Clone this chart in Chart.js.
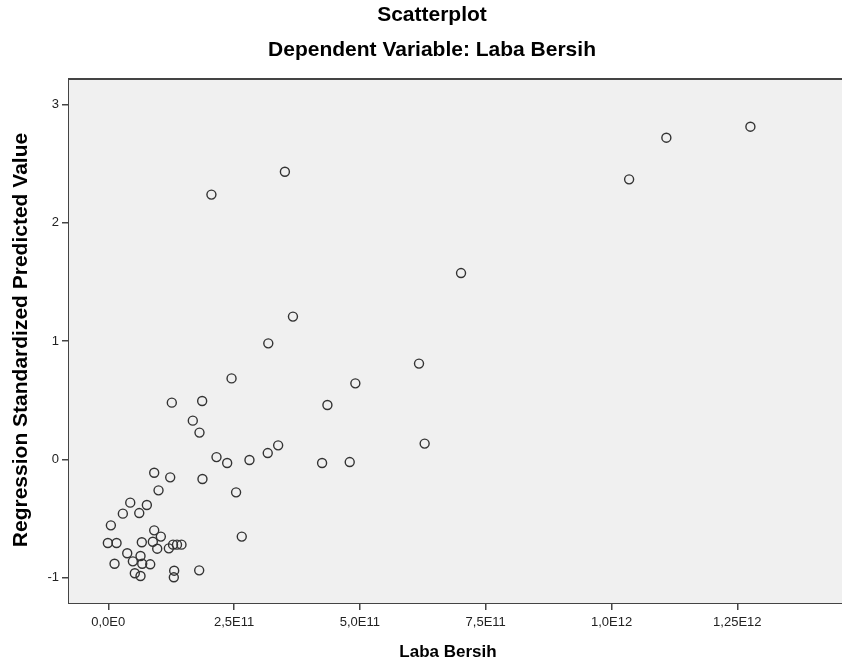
<!DOCTYPE html>
<html>
<head>
<meta charset="utf-8">
<title>Scatterplot</title>
<script src="https://cdn.jsdelivr.net/npm/chart.js@4.4.1/dist/chart.umd.min.js"></script>
<style>
  html, body { margin: 0; padding: 0; background: #ffffff; }
  #wrap { width: 842px; height: 666px; }
</style>
</head>
<body>
<div id="wrap"><canvas id="scatter" width="842" height="666"></canvas></div>
<script>
// Laba Bersih (x) and Regression Standardized Predicted Value (y)
const labaBersih = [
  -0.008e11, 0.165e11, 0.052e11, 0.125e11, 0.29e11, 0.377e11, 0.437e11, 0.489e11,
  0.528e11, 0.616e11, 0.641e11, 0.641e11, 0.667e11, 0.675e11, 0.767e11, 0.834e11,
  0.886e11, 0.913e11, 0.913e11, 0.973e11, 0.999e11, 1.045e11, 1.204e11, 1.231e11,
  1.263e11, 1.287e11, 1.303e11, 1.31e11, 1.366e11, 1.455e11, 1.68e11, 1.807e11,
  1.813e11, 1.866e11, 1.872e11, 2.05e11, 2.151e11, 2.363e11, 2.45e11, 2.54e11,
  2.653e11, 2.806e11, 3.169e11, 3.18e11, 3.376e11, 3.51e11, 3.67e11, 4.249e11,
  4.355e11, 4.798e11, 4.91e11, 6.175e11, 6.287e11, 7.01e11, 10.35e11, 11.09e11,
  12.76e11
];
const predictedValue = [
  -0.707, -0.707, -0.558, -0.882, -0.459, -0.794, -0.366, -0.862,
  -0.963, -0.454, -0.817, -0.986, -0.701, -0.882, -0.386, -0.887,
  -0.696, -0.113, -0.600, -0.755, -0.262, -0.653, -0.752, -0.152,
  0.479, -0.721, -0.997, -0.941, -0.721, -0.721, 0.327, -0.938,
  0.226, 0.493, -0.166, 2.237, 0.019, -0.031, 0.684, -0.279,
  -0.653, -0.006, 0.053, 0.980, 0.118, 2.430, 1.206, -0.031,
  0.459, -0.023, 0.642, 0.809, 0.133, 1.574, 2.366, 2.718,
  2.811
];

const xTickValues = [0, 2.5e11, 5.0e11, 7.5e11, 1.0e12, 1.25e12];
const xTickLabels = ['0,0E0', '2,5E11', '5,0E11', '7,5E11', '1,0E12', '1,25E12'];
const yTickValues = [-1, 0, 1, 2, 3];
const yTickLabels = ['-1', '0', '1', '2', '3'];

const FONT = '"Liberation Sans", Arial, sans-serif';

const points = labaBersih.map((x, i) => ({ x: x, y: predictedValue[i] }));

// plot background, top frame line and the text
const frame = {
  id: 'frame',
  beforeDatasetsDraw(chart) {
    const a = chart.chartArea, ctx = chart.ctx;
    ctx.save();
    ctx.fillStyle = '#f0f0f0';
    ctx.fillRect(a.left, a.top, a.right - a.left, a.bottom - a.top);
    ctx.strokeStyle = '#444444';
    ctx.lineWidth = 2;
    ctx.beginPath();
    ctx.moveTo(a.left, a.top);
    ctx.lineTo(a.right, a.top);
    ctx.stroke();
    ctx.restore();
  },
  afterDraw(chart) {
    const ctx = chart.ctx;
    ctx.save();
    ctx.fillStyle = '#000000';
    ctx.textAlign = 'center';
    ctx.textBaseline = 'middle';
    ctx.font = 'bold 21px ' + FONT;
    ctx.fillText('Scatterplot', 432, 15);
    ctx.fillText('Dependent Variable: Laba Bersih', 432, 50);
    ctx.font = 'bold 17px ' + FONT;
    ctx.fillText('Laba Bersih', 448, 652);
    ctx.font = 'bold 21px ' + FONT;
    ctx.translate(21, 340);
    ctx.rotate(-Math.PI / 2);
    ctx.fillText('Regression Standardized Predicted Value', 0, 0);
    ctx.restore();
  }
};

new Chart(document.getElementById('scatter').getContext('2d'), {
  type: 'scatter',
  data: {
    datasets: [{
      data: points,
      pointStyle: 'circle',
      pointRadius: 4.5,
      pointBorderWidth: 1.4,
      pointBorderColor: '#333333',
      pointBackgroundColor: 'rgba(0,0,0,0)'
    }]
  },
  options: {
    responsive: false,
    animation: false,
    events: [],
    devicePixelRatio: 1,
    layout: {
      autoPadding: false,
      padding: { top: 79, left: 0, right: 0, bottom: 0 }
    },
    plugins: {
      legend: { display: false },
      tooltip: { enabled: false }
    },
    scales: {
      x: {
        type: 'linear',
        min: -0.78e11,
        max: 1.458e12,
        afterFit: function(scale) {
          scale.height = 63;
          scale.paddingLeft = 0;
          scale.paddingRight = 0;
        },
        afterBuildTicks: function(scale) {
          scale.ticks = xTickValues.map(v => ({ value: v }));
        },
        ticks: {
          autoSkip: false,
          maxRotation: 0,
          padding: 5,
          color: '#222222',
          font: { family: FONT, size: 13 },
          callback: (value, index) => xTickLabels[index]
        },
        grid: {
          drawOnChartArea: false,
          drawTicks: true,
          tickLength: 7,
          color: '#444444',
          lineWidth: 1.5
        },
        border: { display: true, color: '#444444', width: 2 }
      },
      y: {
        type: 'linear',
        min: -1.214,
        max: 3.214,
        afterFit: function(scale) {
          scale.width = 69;
          scale.paddingTop = 0;
          scale.paddingBottom = 0;
        },
        afterBuildTicks: function(scale) {
          scale.ticks = yTickValues.map(v => ({ value: v }));
        },
        ticks: {
          autoSkip: false,
          padding: 3,
          color: '#222222',
          font: { family: FONT, size: 13 },
          callback: (value, index) => yTickLabels[index]
        },
        grid: {
          drawOnChartArea: false,
          drawTicks: true,
          tickLength: 7,
          color: '#444444',
          lineWidth: 1.5
        },
        border: { display: true, color: '#444444', width: 2 }
      }
    }
  },
  plugins: [frame]
});
</script>
</body>
</html>
